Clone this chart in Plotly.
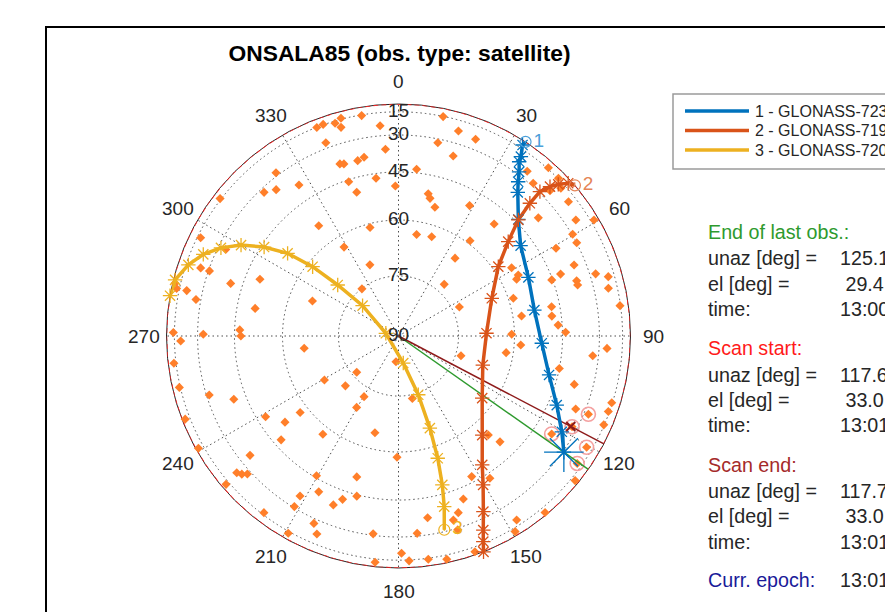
import numpy as np
import plotly.graph_objects as go

# ---------------- data (azimuth in deg, elevation in deg) ----------------
obs_az = [350.5, 355, 345.2, 343.4, 344.6, 340.4, 338.6, 339.4, 356, 349.1, 346.9, 341.2, 342.4,
          323.1, 326.6, 320.1, 316.9, 342.1, 343.8, 351.9, 358.8, 307.6, 324.1, 345.3, 328.5,
          338.1, 296.4, 296.6, 289, 289, 282.1, 280.2, 283.3, 282.1, 287.4, 292.3, 280.9, 292.1,
          322.2, 270.9, 270.5, 272.2, 270,
          11.5, 16.3, 21.4, 11.5, 16.9, 6.2, 11.8, 12.9, 15.8, 28.6, 10.1, 18.5, 36.9, 36, 40.5,
          41.5, 64.5, 58.9, 63, 64.3, 71.8, 80.8, 89.1, 38, 41.7, 41.4, 45.4, 47.7, 46.2, 51.7,
          49.8, 56.8, 59.3, 59.7, 62.4, 60.9, 68, 69.1, 69.9, 72.5, 74.2, 72.8, 74.1, 77.2, 82.2,
          79.2, 82.6, 86.1, 88.7,
          268.7, 262.6, 263.1, 229, 239.3, 226.8, 256.8, 252.7, 249, 209.6, 210.4, 232.1, 238.7,
          232.8, 248.7, 217.6, 228.5, 193.7, 240.7, 231.2, 180.7, 229.8, 228.6, 227.6, 210.4,
          196.5, 229.3, 207.1, 211.6, 194.6, 198.9, 201.1, 211.4, 217.3, 204.3, 209.2, 202.4,
          187.3, 185.9, 179.2, 185.6,
          94.2, 98.8, 107.5, 95.8, 93.4, 101.4, 105.4, 167.5, 112.4, 112.4, 107.4, 109.8, 113.4,
          117.6, 122.6, 120.6, 125.5, 129.3, 137.8, 136.2, 152.5, 147.3, 158.3, 161.3, 170.9,
          163.4, 163, 174.6, 147.3, 140.3, 149.2, 160.5, 167.8, 172.4, 177.3]
obs_el = [15.6, 24.5, 13.9, 16.9, 21.1, 14.5, 15.2, 27.1, 36.2, 38.3, 39.1, 38.4, 38.9,
          28.4, 38.8, 34.7, 32, 45.7, 49.8, 46.6, 49.7, 13.9, 54.1, 61.1, 63.3,
          70.7, 17.8, 33.6, 25.6, 30.5, 21, 27.5, 8.2, 12, 40.7, 49.8, 51, 66.4,
          75.1, 13.9, 32.7, 46.8, 47.2,
          15.2, 23, 24.4, 31.8, 35.8, 43.7, 51.2, 52.5, 54.8, 50.2, 63.6, 63.2, 59.1, 65.5, 50.6,
          72.7, 73.1, 55.3, 54.6, 55.6, 58.6, 57.5, 60.8, 25.7, 13.8, 28.6, 14.5, 18.9, 25.2, 21,
          37.9, 24, 11.5, 29.6, 29.9, 39, 35.3, 41.6, 45.3, 27, 20, 36.5, 36.6, 21.9, 15.5,
          47.8, 48.2, 46.4, 43.9,
          20.1, 65.8, 12.8, 76.2, 68.2, 71.7, 14, 31.3, 40.5, 72.5, 69.1, 57.5, 47.9,
          52.1, 9.3, 57.7, 47.5, 64.6, 8.5, 34.8, 58.5, 24.1, 25.8, 28.1, 45.7,
          50.7, 11.3, 41, 35.9, 44.5, 41.9, 38.7, 30.5, 16.8, 27.6, 13.1, 22.6,
          30.7, 11.3, 20.5, 83.6,
          58.1, 62, 73.6, 32.7, 25.8, 45, 38.2, 74, 34.3, 27.7, 15.6, 16, 15.4,
          32.4, 38.4, 19.6, 18.9, 10.3, 54.8, 50.8, 46.9, 43.2, 40.9, 36.5, 37.5,
          34.1, 29.1, 31.3, 19.5, 8.5, 11, 9.3, 10, 13.8, 14]

sat1_az = [33.2, 33, 34.3, 34.7, 36.3, 37.8, 39.7, 45.8, 53.5, 65.7, 79.2, 92.9, 104.5, 113.6, 120.4, 125.1]
sat1_el = [0, 11, 20.6, 24, 28.6, 32.7, 36.4, 43.9, 49.1, 52.1, 53.4, 51.8, 47.9, 41.9, 35.3, 29.4]
sat2_az = [49.5, 48, 46.5, 45.4, 44.4, 44.7, 45.9, 49.3, 55.2, 68, 88.2, 109, 126.6, 139.8, 147,
           150.4, 154.2, 156.4, 157.6, 158.5]
sat2_el = [0, 10.2, 18.3, 23.5, 29.4, 36.4, 44, 51.4, 58.4, 64.3, 67.7, 67.4, 63.3, 56, 48.5,
           42.4, 32.8, 24.1, 16.5, 1]
sat3_az = [280, 284.1, 288.7, 292.7, 296.4, 300, 303.5, 306.7, 308.9, 310, 310.2, 282, 170,
           161.4, 161.2, 162.2, 163.6, 165, 166.7]
sat3_el = [0, 6.8, 17, 24.2, 31.3, 38.4, 46, 53.4, 61.6, 70, 78.3, 86.8, 83.2, 74.5, 65.2,
           56.4, 48, 40.4, 30.9]
sat_names = ["1 - GLONASS-723 (COSMOS 2447)", "2 - GLONASS-719 (COSMOS 2451)",
             "3 - GLONASS-720 (COSMOS 2459)"]
sat_labels = ["1", "2", "3"]
sat_mark_idx = [0, 0, -1]          # where the numbered circle sits on each track

circled_az = [112.4, 117.6, 122.6, 120.6, 125.5]
circled_el = [27.7, 32.4, 38.4, 19.6, 18.9]

horizon_az = list(range(0, 361, 5))
horizon_el = [0] * len(horizon_az)

end_last = {"unaz": 125.1, "el": 29.4, "time": "13:00:48"}
scan_start = {"unaz": 117.6, "el": 33.0, "time": "13:01:12"}
scan_end = {"unaz": 117.7, "el": 33.0, "time": "13:01:20"}
curr_epoch = "13:01:20"

ring_el = [15, 30, 45, 60, 75, 90]
az_ticks = list(range(0, 360, 30))

# ---------------- styling ----------------
W, H = 893, 612
OFF = 8                      # page body margin of the html page
FONT = "Liberation Sans, Arial, Helvetica, sans-serif"
TXT = "#262626"
c_sat = ["#0072BD", "#D95319", "#EDB120"]
c_sat_light = ["#4B9FD9", "#E58557", "#EDB120"]
c_obs = "#FF7F2A"
cx, cy, R = 398.5, 336, 232  # polar centre / radius in page pixels
LABEL_RPX = 255              # azimuth labels centred on this radius (px)


def px(x):
    return (x - OFF) / W


def py(y):
    return 1 - (y - OFF) / H


def rr(el):
    return list(np.cos(np.radians(np.asarray(el, dtype=float))))


fig = go.Figure()

# horizon mask (red dashed)
fig.add_trace(go.Scatterpolar(theta=horizon_az, r=rr(horizon_el), mode="lines",
                              line=dict(color="#FF2020", width=1.2, dash="5px,3px"),
                              showlegend=False, hoverinfo="skip", cliponaxis=False))

# observable sources
fig.add_trace(go.Scatterpolar(theta=obs_az, r=rr(obs_el), mode="markers",
                              marker=dict(symbol="diamond", size=7, color=c_obs),
                              showlegend=False, cliponaxis=False))

# pink circles
fig.add_trace(go.Scatterpolar(theta=circled_az, r=rr(circled_el), mode="markers",
                              marker=dict(symbol="circle-open", size=14, color="#F4A0A0",
                                          line=dict(color="#F4A0A0", width=1.6)),
                              showlegend=False, cliponaxis=False))

# lines from zenith to last obs and scan end
fig.add_trace(go.Scatterpolar(theta=[end_last["unaz"]] * 2, r=[0, 1], mode="lines",
                              line=dict(color="#2E9A2E", width=1.5), showlegend=False,
                              cliponaxis=False))
fig.add_trace(go.Scatterpolar(theta=[scan_end["unaz"]] * 2, r=[0, 1], mode="lines",
                              line=dict(color="#8E1B1B", width=1.5), showlegend=False,
                              cliponaxis=False))

sats = [(sat1_az, sat1_el), (sat2_az, sat2_el), (sat3_az, sat3_el)]
for i, (az, el) in enumerate(sats):
    fig.add_trace(go.Scatterpolar(theta=az, r=rr(el), mode="lines", name=sat_names[i],
                                  line=dict(color=c_sat[i], width=3.5), cliponaxis=False,
                                  showlegend=False))
for i, (az, el) in enumerate(sats):
    fig.add_trace(go.Scatterpolar(theta=az[1:] if sat_mark_idx[i] == 0 else az[:-1],
                                  r=rr(el[1:] if sat_mark_idx[i] == 0 else el[:-1]),
                                  mode="markers", showlegend=False, cliponaxis=False,
                                  marker=dict(symbol="asterisk-open", size=12, color=c_sat[i],
                                              line=dict(color=c_sat[i], width=1.3))))
for i, (az, el) in enumerate(sats):
    k = sat_mark_idx[i]
    fig.add_trace(go.Scatterpolar(theta=[az[k]], r=rr([el[k]]), mode="markers+text",
                                  text=[sat_labels[i]], textposition="middle right",
                                  textfont=dict(size=19, color=c_sat_light[i], family=FONT),
                                  showlegend=False, cliponaxis=False,
                                  marker=dict(symbol="circle-open-dot", size=11,
                                              color=c_sat_light[i],
                                              line=dict(color=c_sat_light[i], width=1.2))))

# scan end marker and big star at end of last observation
fig.add_trace(go.Scatterpolar(theta=[scan_end["unaz"]], r=rr([scan_end["el"]]), mode="markers",
                              marker=dict(symbol="x-thin-open", size=9, color="#8E1B1B",
                                          line=dict(color="#8E1B1B", width=2)),
                              showlegend=False, cliponaxis=False))
fig.add_trace(go.Scatterpolar(theta=[end_last["unaz"]], r=rr([end_last["el"]]), mode="markers",
                              marker=dict(symbol="asterisk-open", size=33, color=c_sat[0],
                                          line=dict(color=c_sat[0], width=1.3)),
                              showlegend=False, cliponaxis=False))

# radial (elevation) labels along the 0 deg spoke
fig.add_trace(go.Scatterpolar(theta=[0] * len(ring_el), r=rr(ring_el), mode="text",
                              text=[str(e) for e in ring_el], textposition="middle center",
                              textfont=dict(size=19, color=TXT, family=FONT),
                              showlegend=False, hoverinfo="skip", cliponaxis=False))

GRID = "#4d4d4d"
fig.update_layout(
    width=W, height=H,
    margin=dict(l=0, r=0, t=0, b=0, autoexpand=False),
    paper_bgcolor="white",
    font=dict(family=FONT, size=19, color=TXT),
    title=dict(text="<b>ONSALA85 (obs. type: satellite)</b>", x=px(399.5), y=py(53),
               xanchor="center", yanchor="middle",
               font=dict(size=22.8, color="black", family=FONT)),
    polar=dict(
        domain=dict(x=[px(cx - R), px(cx + R)], y=[py(cy + R), py(cy - R)]),
        bgcolor="white",
        angularaxis=dict(rotation=90, direction="clockwise", tickmode="array",
                         tickvals=az_ticks, showticklabels=False,
                         showline=True, linecolor="#262626", linewidth=1, layer="below traces",
                         showgrid=True, gridcolor=GRID, gridwidth=1, griddash="1.5px,3px",
                         ticks=""),
        radialaxis=dict(range=[0, 1], tickmode="array", tickvals=rr(ring_el[:-1]),
                        showticklabels=False, ticks="", showline=False, layer="below traces",
                        showgrid=True, gridcolor=GRID, gridwidth=1, griddash="1.5px,3px"),
    ),
    showlegend=False,
)

# azimuth labels centred on a circle just outside the horizon (MATLAB style)
for a in az_ticks:
    t = np.radians(a)
    fig.add_annotation(x=px(cx + LABEL_RPX * np.sin(t)), y=py(cy - LABEL_RPX * np.cos(t)),
                       xref="paper", yref="paper", text=str(a), showarrow=False,
                       xanchor="center", yanchor="middle",
                       font=dict(size=19, color=TXT, family=FONT))

shapes = [dict(type="rect", xref="paper", yref="paper", x0=px(46), x1=1.2,
               y0=-0.2, y1=py(27), line=dict(color="black", width=2),
               fillcolor="rgba(0,0,0,0)", layer="below")]

# legend box drawn by hand (MATLAB style, compact rows)
leg_rows = [111, 130.5, 150]
shapes.append(dict(type="rect", xref="paper", yref="paper", x0=px(673), x1=1.3,
                   y0=py(169), y1=py(94), line=dict(color="#9a9a9a", width=1.5),
                   fillcolor="white", layer="above"))
for i, yy in enumerate(leg_rows):
    shapes.append(dict(type="line", xref="paper", yref="paper", x0=px(685), x1=px(749),
                       y0=py(yy), y1=py(yy), line=dict(color=c_sat[i], width=3.5),
                       layer="above"))
    fig.add_annotation(x=px(753), y=py(yy), xref="paper", yref="paper", text=sat_names[i],
                       showarrow=False, xanchor="left", yanchor="middle",
                       font=dict(size=16, color=TXT, family=FONT))
fig.update_layout(shapes=shapes)


# right-hand info panel
def fmt(v):
    s = f"{v:5.1f}"
    return s.replace(" ", "\u00a0")


rows = [
    ("End of last obs.:", None, 231.7, "#2E9A2E"),
    ("unaz [deg] =", fmt(end_last["unaz"]), 258.3, TXT),
    ("el [deg] =", fmt(end_last["el"]), 284, TXT),
    ("time:", end_last["time"], 309.3, TXT),
    ("Scan start:", None, 348.3, "#FF1A1A"),
    ("unaz [deg] =", fmt(scan_start["unaz"]), 375, TXT),
    ("el [deg] =", fmt(scan_start["el"]), 400, TXT),
    ("time:", scan_start["time"], 425, TXT),
    ("Scan end:", None, 465, "#A52A2A"),
    ("unaz [deg] =", fmt(scan_end["unaz"]), 490.7, TXT),
    ("el [deg] =", fmt(scan_end["el"]), 516, TXT),
    ("time:", scan_end["time"], 541.7, TXT),
    ("Curr. epoch:", curr_epoch, 580, "#1A1A99"),
]
for lab, val, ypx, col in rows:
    fig.add_annotation(x=px(705.5), y=py(ypx), xref="paper", yref="paper", text=lab,
                       showarrow=False, xanchor="left", yanchor="middle",
                       font=dict(size=19.7, color=col, family=FONT))
    if val is not None:
        fig.add_annotation(x=px(837.5), y=py(ypx), xref="paper", yref="paper", text=val,
                           showarrow=False, xanchor="left", yanchor="middle",
                           font=dict(size=19.7, color=TXT, family=FONT))

fig.write_html("out.html")
